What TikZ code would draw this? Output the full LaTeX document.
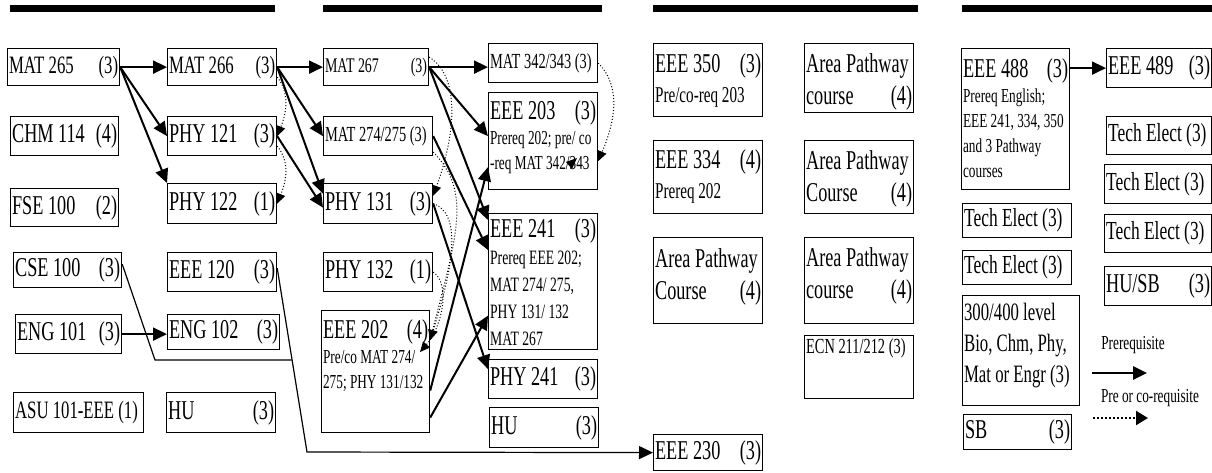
\documentclass[tikz,border=0pt]{standalone}
\usepackage{fontspec}
\setmainfont{Liberation Serif}[FakeStretch=0.67]
\usetikzlibrary{arrows.meta}

\newlength{\pxu}
\setlength{\pxu}{0.5pt}
\newcommand{\gap}{\hspace{0pt plus 1filll}}
\newcommand{\fbig}{\fontsize{13.6}{16}\selectfont}
\newcommand{\ftech}{\fontsize{13}{16}\selectfont}
\newcommand{\fmat}{\fontsize{12.5}{15}\selectfont}
\newcommand{\fsml}{\fontsize{10.75}{13}\selectfont}
\newcommand{\fnote}{\fontsize{9.9}{12.5}\selectfont}
\newcommand{\fnoteb}{\fontsize{11.3}{13}\selectfont}
\newcommand{\crs}[4][c]{\parbox[c][#3\pxu][#1]{\dimexpr #2\pxu-1.5pt\relax}{\raggedright #4}}

\begin{document}
\begin{tikzpicture}[x=0.5pt,y=-0.5pt,
    box/.style={draw,line width=0.6pt,inner xsep=0.75pt,inner ysep=0pt,anchor=north west},
    pre/.style={line width=1pt,-{Triangle[length=7pt,width=6.5pt]}},
    coreq/.style={densely dotted,line width=0.5pt,-{Triangle[length=5pt,width=4.5pt]}},
    feed/.style={line width=0.6pt}]
    \useasboundingbox (0,0) rectangle (1212,472);
    \fill (10,5) rectangle (275,12);
    \fill (323,5) rectangle (602,12);
    \fill (653,5) rectangle (918,12);
    \fill (962,5) rectangle (1212,12);

    \node[box] (mat265) at (7,48) {\crs{112}{37}{\fmat MAT 265\gap(3)}};
    \node[box] (chm114) at (10,116) {\crs{108}{39}{\fbig CHM 114\gap(4)}};
    \node[box] (fse100) at (10,188) {\crs{108}{38}{\fbig FSE 100\gap(2)}};
    \node[box] (cse100) at (13,252) {\crs{108}{35}{\fbig CSE 100\gap(3)}};
    \node[box] (eng101) at (15,314) {\crs{106}{39}{\fbig ENG 101\gap(3)}};
    \node[box] (asu101) at (13,392) {\crs{130}{40}{\fmat ASU 101-EEE (1)}};

    \node[box] (mat266) at (167,48) {\crs{109}{37}{\fmat MAT 266\gap(3)}};
    \node[box] (phy121) at (167,116) {\crs{109}{39}{\fbig PHY 121\gap(3)}};
    \node[box] (phy122) at (167,183) {\crs{109}{40}{\fbig PHY 122\gap(1)}};
    \node[box] (eee120) at (167,252) {\crs{109}{39}{\fbig EEE 120\gap(3)}};
    \node[box] (eng102) at (167,314) {\crs{112}{35}{\fbig ENG 102\gap(3)}};
    \node[box] (hu1) at (166,392) {\crs{109}{40}{\fbig HU\gap(3)}};

    \node[box] (mat267) at (323,48) {\crs{105}{37}{\fontsize{10.4}{12}\selectfont MAT 267\gap(3)}};
    \node[box] (mat274) at (323,116) {\crs{109}{39}{\fsml MAT 274/275 (3)}};
    \node[box] (phy131) at (323,183) {\crs{109}{40}{\fbig PHY 131\gap(3)}};
    \node[box] (phy132) at (323,252) {\crs{109}{39}{\fbig PHY 132\gap(1)}};
    \node[box] (eee202) at (321,310) {\crs[t]{108}{122}{\fbig\rule{0pt}{14pt}EEE 202\gap(4)\\ \fnote Pre/co MAT 274/\\ 275; PHY 131/132}};

    \node[box] (mat342) at (488,43) {\crs{109}{39}{\fsml MAT 342/343 (3)}};
    \node[box] (eee203) at (488,92) {\crs[t]{109}{97}{\fbig\rule{0pt}{13.5pt}EEE 203\gap(3)\\ \fnote Prereq 202; pre/ co\\ -req MAT 342/343}};
    \node[box] (eee241) at (488,213) {\crs[t]{109}{136}{\fbig\rule{0pt}{12pt}EEE 241\gap(3)\\ \fontsize{10.2}{13.5}\selectfont Prereq EEE 202;\\ MAT 274/ 275,\\ PHY 131/ 132\\ MAT 267}};
    \node[box] (phy241) at (488,359) {\crs{109}{39}{\fbig PHY 241\gap(3)}};
    \node[box] (hu2) at (489,407) {\crs{109}{40}{\fbig HU\gap(3)}};
    \node[box] (eee230) at (653,434) {\crs{109}{36}{\fbig EEE 230\gap(3)}};

    \node[box] (eee350) at (653,43) {\crs[t]{109}{73}{\fbig\rule{0pt}{14.5pt}EEE 350\gap(3)\\[2pt] \fnoteb Pre/co-req 203}};
    \node[box] (eee334) at (653,140) {\crs[t]{109}{73}{\fbig\rule{0pt}{14pt}EEE 334\gap(4)\\[2pt] \fnoteb Prereq 202}};
    \node[box] (path1) at (653,237) {\crs[t]{109}{86}{\fbig\rule{0pt}{15pt}Area Pathway\\ Course\gap(4)}};

    \node[box] (path2) at (804,43) {\crs[t]{109}{69}{\fbig\rule{0pt}{14.5pt}Area Pathway\\ course\gap(4)}};
    \node[box] (path3) at (804,140) {\crs[t]{109}{73}{\fbig\rule{0pt}{14.5pt}Area Pathway\\ Course\gap(4)}};
    \node[box] (path4) at (804,237) {\crs[t]{109}{86}{\fbig\rule{0pt}{14.5pt}Area Pathway\\ course\gap(4)}};
    \node[box] (ecn) at (804,335) {\crs[t]{109}{63}{\fsml\rule{0pt}{9pt}ECN 211/212 (3)}};

    \node[box] (eee488) at (961,48) {\crs[t]{108}{141}{\fbig\rule{0pt}{14.5pt}EEE 488\gap(3)\\ \fnote Prereq English;\\ EEE 241, 334, 350\\ and 3 Pathway\\ courses}};
    \node[box] (tech1) at (962,203) {\crs{109}{34}{\ftech Tech Elect (3)}};
    \node[box] (tech2) at (962,250) {\crs{109}{34}{\ftech Tech Elect (3)}};
    \node[box] (level) at (962,295) {\crs[t]{117}{110}{\fontsize{12.5}{15.5}\selectfont\rule{0pt}{12.5pt}300/400 level\\ Bio, Chm, Phy,\\ Mat or Engr (3)}};
    \node[box] (sb) at (963,414) {\crs{108}{35}{\fbig SB\gap(3)}};

    \node[box] (eee489) at (1106,48) {\crs{105}{39}{\fbig EEE 489\gap(3)}};
    \node[box] (tech3) at (1106,116) {\crs{105}{38}{\ftech Tech Elect (3)}};
    \node[box] (tech4) at (1104,164) {\crs{107}{39}{\ftech Tech Elect (3)}};
    \node[box] (tech5) at (1104,214) {\crs{107}{38}{\ftech Tech Elect (3)}};
    \node[box] (husb) at (1104,266) {\crs{107}{39}{\fbig HU/SB\gap(3)}};

    \draw[pre] (mat265.east) -- (mat266.west);
    \draw[pre] (mat265.east) -- (phy121.west);
    \draw[pre] (mat265.east) -- (phy122.north west);
    \draw[pre] (eng101.east) -- (eng102.west |- eng101.east);
    \draw[pre] (mat266.east) -- (mat267.west);
    \draw[pre] (mat266.east) -- (mat274.west);
    \draw[pre] (mat266.east) -- ([yshift=5pt]phy131.west);
    \draw[pre] (phy121.east) -- ([yshift=-2pt]phy131.west);
    \draw[pre] (mat267.east) -- (mat342.west |- mat267.east);
    \draw[pre] (mat267.east) -- ([yshift=2.5pt]eee203.west);
    \draw[pre] (mat267.east) -- ([yshift=-3.5pt]eee241.north west);
    \draw[pre] (mat274.east) -- ([yshift=-18.5pt]eee241.north west);
    \draw[pre] (phy131.east) -- ([yshift=5pt]phy241.west);
    \draw[pre] ([yshift=-9.5pt]eee202.east) -- ([yshift=-13pt]eee203.west);
    \draw[pre] ([yshift=-23pt]eee202.east) -- ([yshift=-17pt]eee241.west);
    \draw[pre] (eee489.west -| eee488.east) -- (eee489.west);

    \draw[coreq] ([yshift=-5pt]mat266.east) .. controls +(12,15) and +(10,-25) .. (phy121.east);
    \draw[coreq] ([yshift=-5pt]phy121.east) .. controls +(12,15) and +(10,-25) .. (phy122.east);
    \draw[coreq] ([yshift=5pt]mat267.east) .. controls +(32,20) and +(22,-60) .. ([yshift=4pt]phy131.east);
    \coordinate (into202) at ([yshift=-15pt]eee202.north east);
    \coordinate (into202b) at (420,352);
    \draw[coreq] ([yshift=-8pt]mat274.east) .. controls +(40,40) and +(25,-100) .. (into202);
    \draw[coreq] (phy131.east) .. controls +(30,10) and +(22,-70) .. (into202);
    \draw[coreq] (phy132.east) .. controls +(18,12) and +(22,-25) .. (into202b);
    \draw[coreq] (mat342.east) .. controls +(25,25) and +(15,-35) .. ([yshift=-10pt]eee203.east);
    \fill (577,158) -- (566,162) -- (572,169) -- cycle;

    \coordinate (cbend) at (155,360);
    \coordinate (join) at (291.5,360);
    \coordinate (ebend) at (307,452);
    \draw[feed] ([yshift=3pt]cse100.east) -- (cbend) -- (join);
    \draw[feed,-{Triangle[length=7pt,width=6.5pt]}] ([yshift=2pt]eee120.east) -- (ebend) -- (eee230.west);

    \node[font=\fnote] (lgpre) at (1133,345) {Prerequisite};
    \coordinate (lga) at (1092,373);
    \coordinate (lgb) at (1147,373);
    \draw[pre,line width=1.3pt] (lga) -- (lgb);
    \node[font=\fnote] (lgco) at (1150,398) {Pre or co-requisite};
    \coordinate (lgc) at (1093,418);
    \coordinate (lgd) at (1148,418);
    \draw[densely dotted,line width=1pt,-{Triangle[length=6pt,width=7pt]}] (lgc) -- (lgd);
\end{tikzpicture}
\end{document}
